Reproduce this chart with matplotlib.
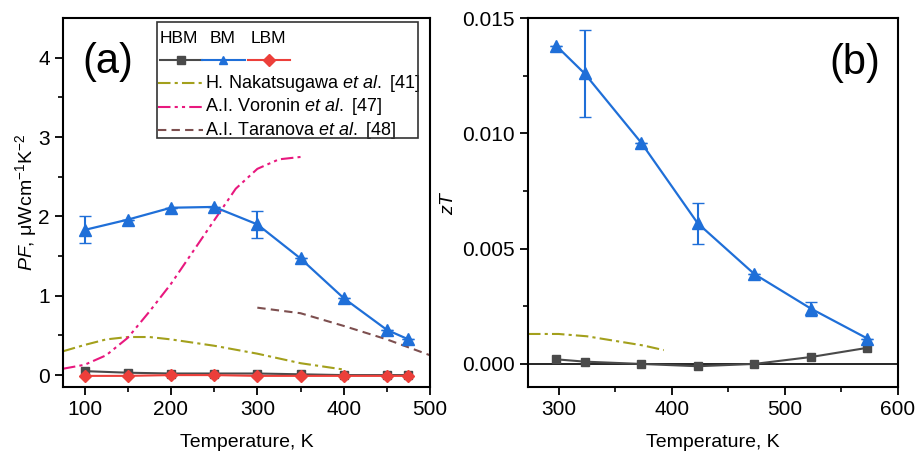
import matplotlib.pyplot as plt
from matplotlib.lines import Line2D
from matplotlib.patches import Rectangle

plt.rcParams['font.family'] = ['Liberation Sans', 'DejaVu Sans']
plt.rcParams['mathtext.fontset'] = 'custom'
plt.rcParams['mathtext.rm'] = 'Liberation Sans'
plt.rcParams['mathtext.it'] = 'Liberation Sans:italic'

# ---- panel (a): power factor ----
t_pf = [100, 150, 200, 250, 300, 350, 400, 450, 475]
pf_bm = [1.83, 1.96, 2.11, 2.12, 1.90, 1.47, 0.97, 0.57, 0.45]
pf_bm_err = [0.17, 0, 0, 0, 0.17, 0, 0, 0, 0]
pf_hbm = [0.05, 0.03, 0.02, 0.02, 0.02, 0.01, 0.0, 0.0, 0.0]
pf_lbm = [-0.01, -0.01, 0.0, 0.0, -0.01, -0.01, -0.01, -0.01, -0.01]

t_nak = [75, 100, 125, 150, 175, 200, 250, 300, 350, 400]
pf_nak = [0.30, 0.38, 0.45, 0.48, 0.48, 0.45, 0.37, 0.27, 0.15, 0.07]
t_vor = [75, 100, 125, 150, 175, 200, 225, 250, 275, 300, 325, 350]
pf_vor = [0.08, 0.13, 0.25, 0.47, 0.80, 1.15, 1.55, 1.95, 2.35, 2.60, 2.72, 2.75]
t_tar = [300, 350, 400, 450, 500]
pf_tar = [0.85, 0.78, 0.62, 0.45, 0.25]

# ---- panel (b): zT ----
t_zt = [298, 323, 373, 423, 473, 523, 573]
zt_bm = [0.0138, 0.0126, 0.0096, 0.0061, 0.0039, 0.0024, 0.0011]
zt_bm_err = [0, 0.0019, 0, 0.0009, 0, 0.0003, 0]
zt_hbm = [0.0002, 0.0001, 0.0, -0.0001, 0.0, 0.0003, 0.0007]
t_zt_nak = [273, 300, 325, 350, 375, 393]
zt_nak = [0.0013, 0.0013, 0.0012, 0.0010, 0.0008, 0.0006]

c_hbm = '#4a4a4a'
c_bm = '#1f6fd8'
c_lbm = '#ec3f3a'
c_nak = '#a3a01c'
c_vor = '#e8187e'
c_tar = '#7d4f4f'

fig = plt.figure(figsize=(9.17, 4.54), dpi=100)
ax1 = fig.add_axes([0.0687, 0.1476, 0.4003, 0.8124])
ax2 = fig.add_axes([0.5758, 0.1476, 0.4035, 0.8124])

ax1.plot(t_nak, pf_nak, color=c_nak, lw=1.5, dashes=[6, 2, 1.5, 2])
ax1.plot(t_vor, pf_vor, color=c_vor, lw=1.5, dashes=[6, 2, 1.5, 2, 1.5, 2])
ax1.plot(t_tar, pf_tar, color=c_tar, lw=1.5, dashes=[4, 2.5])
ax1.plot(t_pf, pf_hbm, color=c_hbm, lw=1.5, marker='s', ms=6)
ax1.plot(t_pf, pf_lbm, color=c_lbm, lw=1.5, marker='D', ms=6)
ax1.errorbar(t_pf, pf_bm, yerr=pf_bm_err, color=c_bm, lw=1.6, marker='^', ms=8,
             capsize=4, elinewidth=1.5)

ax1.set_xlim(75, 500)
ax1.set_ylim(-0.15, 4.5)
ax1.set_xticks([100, 200, 300, 400, 500])
ax1.set_yticks([0, 1, 2, 3, 4])
ax1.set_xticks([150, 250, 350, 450], minor=True)
ax1.set_yticks([0.5, 1.5, 2.5, 3.5], minor=True)
ax1.set_xlabel('Temperature, K', fontsize=14, labelpad=11)
ax1.set_ylabel(r'$\it{PF}$, μWcm$^{-1}$K$^{-2}$', fontsize=14, labelpad=-1)
ax1.text(0.052, 0.935, '(a)', transform=ax1.transAxes, fontsize=30, va='top')

# custom legend box
tr = ax1.transAxes
ax1.add_patch(Rectangle((0.256, 0.675), 0.711, 0.314, transform=tr,
                        fill=False, ec='#333333', lw=1.2, zorder=5))
for xt, lab in [(0.264, 'HBM'), (0.40, 'BM'), (0.51, 'LBM')]:
    ax1.text(xt, 0.946, lab, transform=tr, fontsize=12.5, va='center')
for x0, x1, col, mk in [(0.264, 0.378, c_hbm, 's'), (0.378, 0.496, c_bm, '^'),
                        (0.504, 0.619, c_lbm, 'D')]:
    ax1.add_line(Line2D([x0, x1], [0.886, 0.886], transform=tr, color=col, lw=1.5))
    ax1.add_line(Line2D([(x0 + x1) / 2], [0.886], transform=tr, color=col, marker=mk, ms=6))
leg_items = [(c_nak, [6, 2, 1.5, 2], 'H. Nakatsugawa $\\it{et\\ al.}$ [41]'),
             (c_vor, [6, 2, 1.5, 2, 1.5, 2], 'A.I. Voronin $\\it{et\\ al.}$ [47]'),
             (c_tar, [4, 2.5], 'A.I. Taranova $\\it{et\\ al.}$ [48]')]
for i, (col, ds, lab) in enumerate(leg_items):
    yy = 0.824 - i * 0.064
    ax1.add_line(Line2D([0.259, 0.381], [yy, yy], transform=tr, color=col, lw=1.5, dashes=ds))
    ax1.text(0.387, yy, lab, transform=tr, fontsize=13, va='center')

ax2.axhline(0, color='black', lw=1.2)
ax2.plot(t_zt_nak, zt_nak, color=c_nak, lw=1.5, dashes=[6, 2, 1.5, 2])
ax2.plot(t_zt, zt_hbm, color=c_hbm, lw=1.5, marker='s', ms=6)
ax2.errorbar(t_zt, zt_bm, yerr=zt_bm_err, color=c_bm, lw=1.6, marker='^', ms=8,
             capsize=4, elinewidth=1.5)
ax2.set_xlim(273, 600)
ax2.set_ylim(-0.001, 0.015)
ax2.set_xticks([300, 400, 500, 600])
ax2.set_yticks([0.0, 0.005, 0.010, 0.015])
ax2.set_yticklabels(['0.000', '0.005', '0.010', '0.015'])
ax2.set_xticks([350, 450, 550], minor=True)
ax2.set_yticks([0.0025, 0.0075, 0.0125], minor=True)
ax2.set_xlabel('Temperature, K', fontsize=14, labelpad=11)
ax2.set_ylabel(r'$\it{zT}$', fontsize=14)
ax2.text(0.951, 0.932, '(b)', transform=ax2.transAxes, fontsize=30, va='top', ha='right')

for ax in (ax1, ax2):
    for s in ax.spines.values():
        s.set_linewidth(1.5)
    ax.tick_params(which='major', direction='out', length=6, width=1.3, labelsize=15)
    ax.tick_params(which='minor', direction='out', length=3.5, width=1.2)

fig.savefig('out.png', dpi=100)
